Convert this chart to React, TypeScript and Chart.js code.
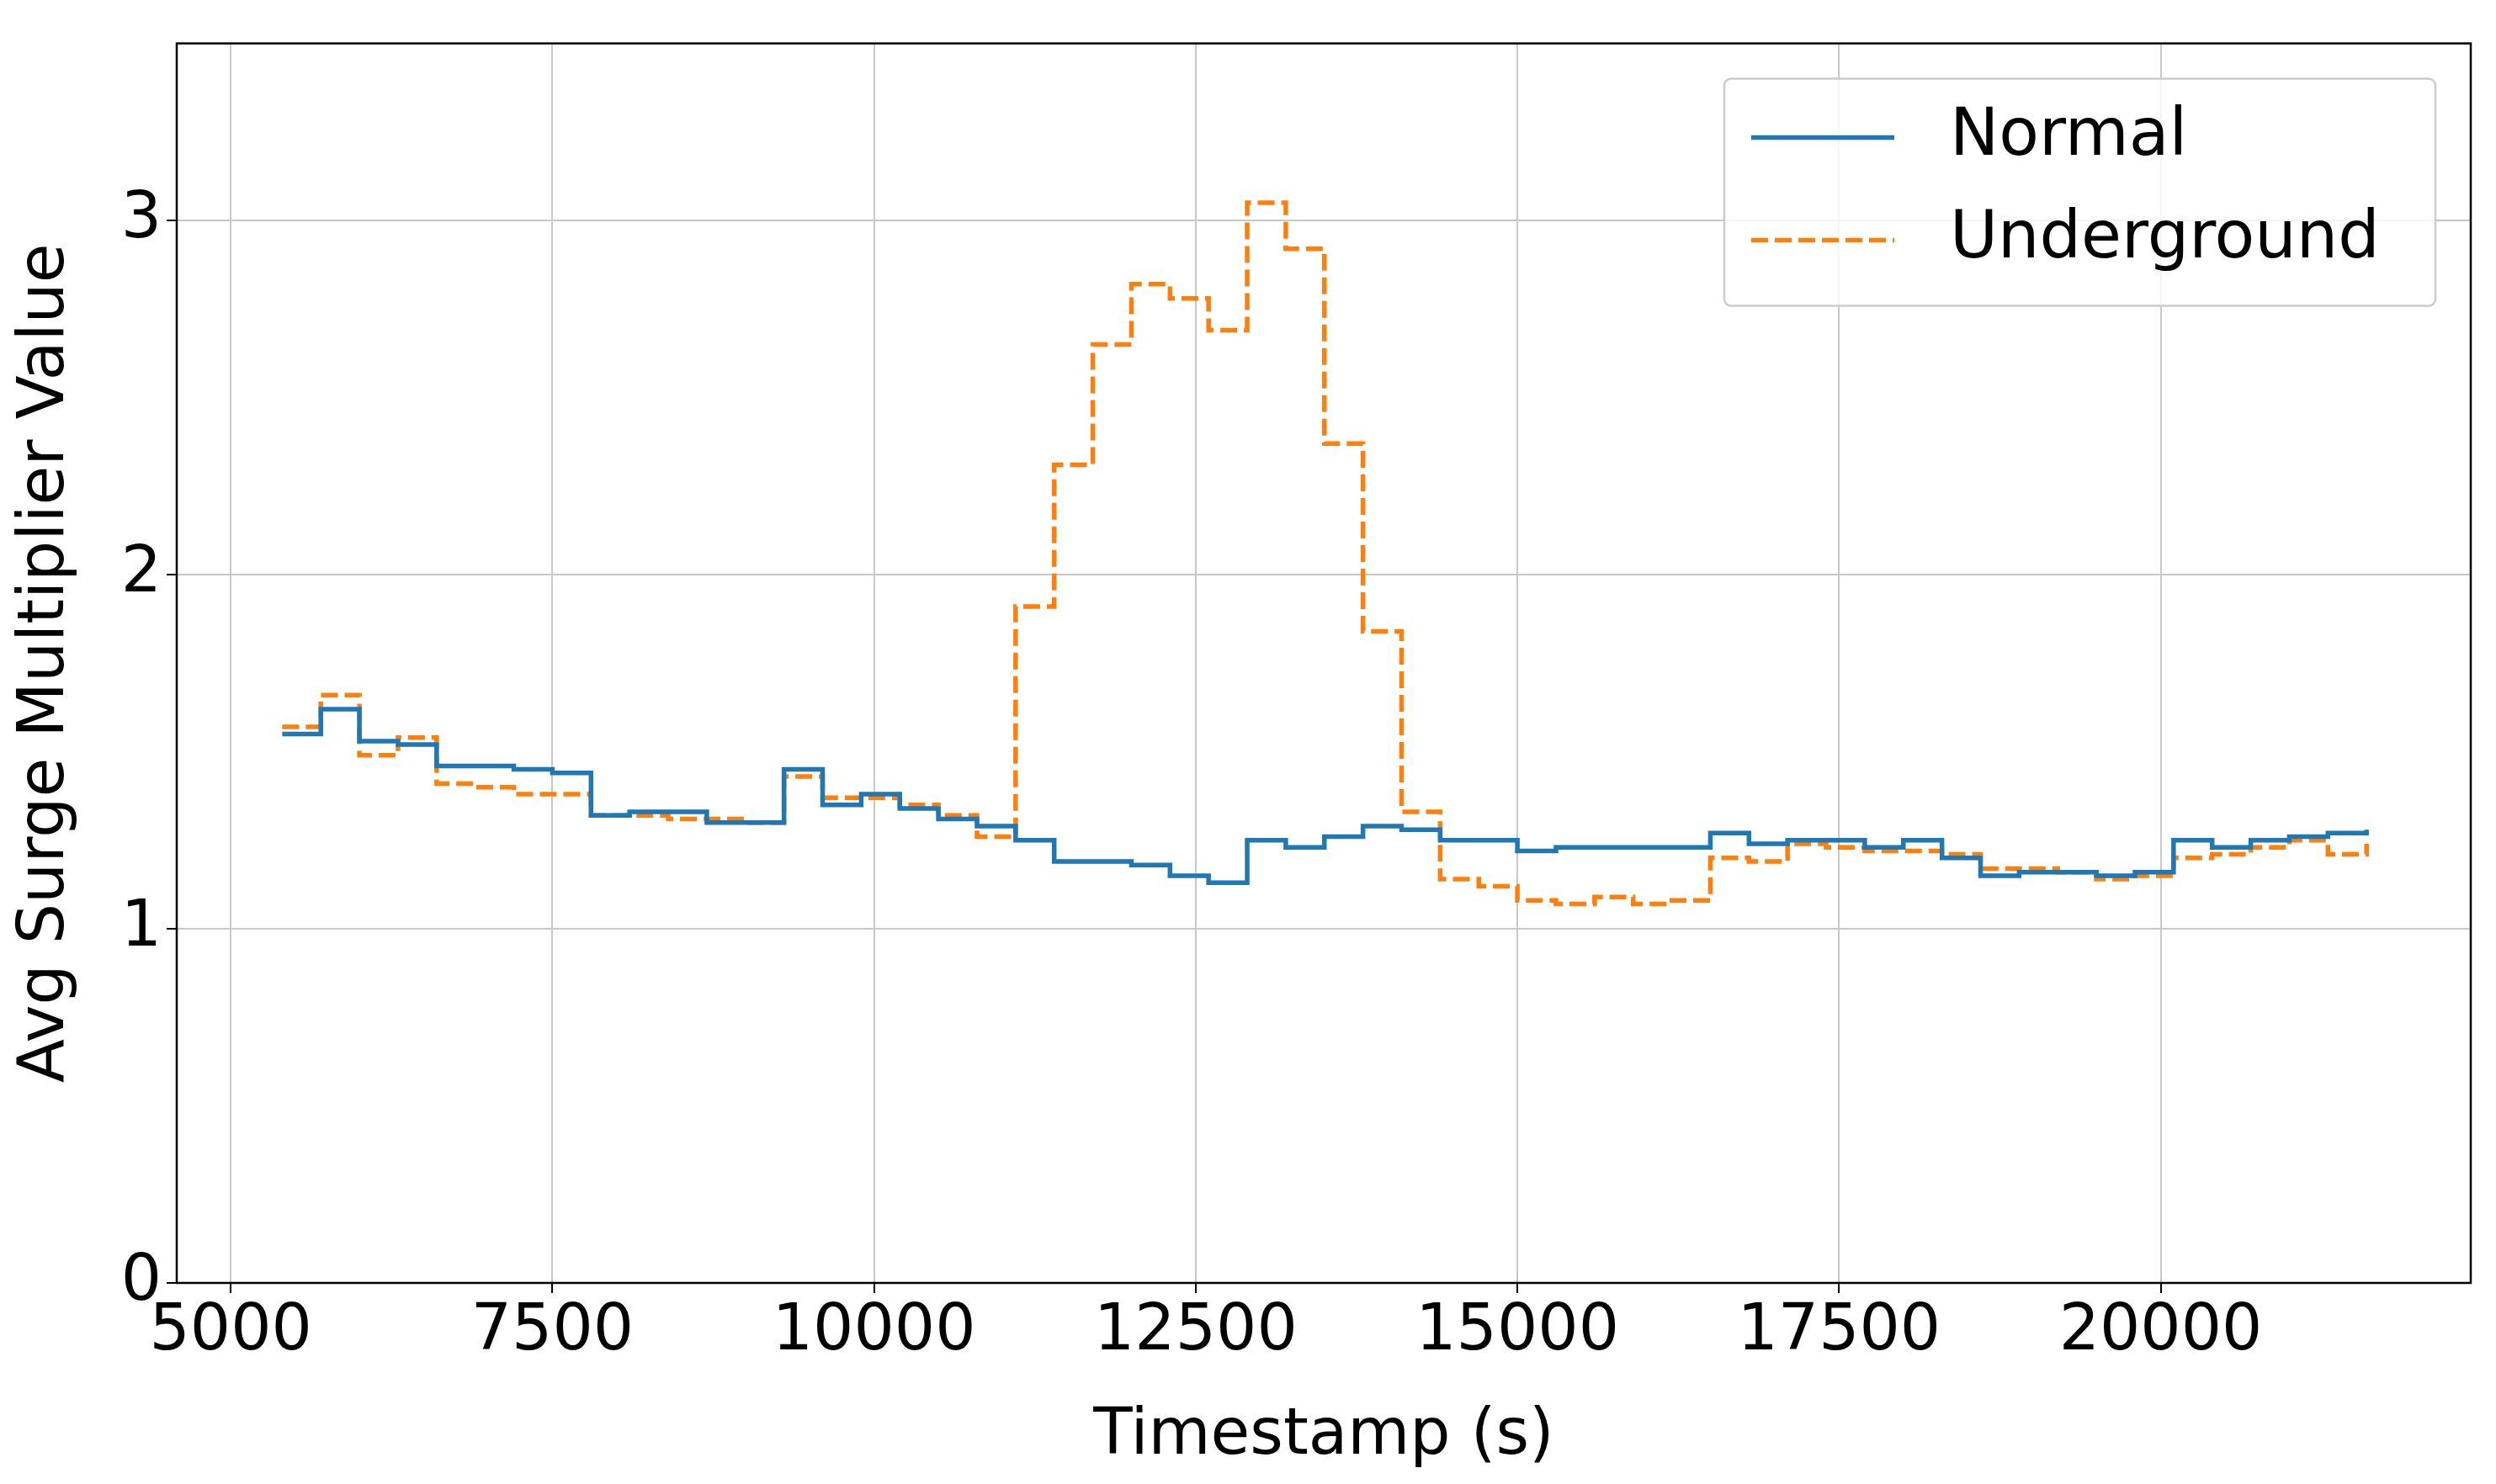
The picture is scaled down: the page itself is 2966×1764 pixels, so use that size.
import { useEffect, useRef } from "react"
import { Chart, registerables } from "chart.js"

Chart.register(...registerables)

const timestamps = [
  5400, 5700, 6000, 6300, 6600, 6900, 7200, 7500, 7800, 8100, 8400, 8700, 9000, 9300, 9600, 9900,
  10200, 10500, 10800, 11100, 11400, 11700, 12000, 12300, 12600, 12900, 13200, 13500, 13800, 14100,
  14400, 14700, 15000, 15300, 15600, 15900, 16200, 16500, 16800, 17100, 17400, 17700, 18000, 18300,
  18600, 18900, 19200, 19500, 19800, 20100, 20400, 20700, 21000, 21300, 21600,
]
const normal = [
  1.55, 1.62, 1.53, 1.52, 1.46, 1.46, 1.45, 1.44, 1.32, 1.33, 1.33, 1.3, 1.3, 1.45, 1.35, 1.38,
  1.34, 1.31, 1.29, 1.25, 1.19, 1.19, 1.18, 1.15, 1.13, 1.25, 1.23, 1.26, 1.29, 1.28,
  1.25, 1.25, 1.22, 1.23, 1.23, 1.23, 1.23, 1.27, 1.24, 1.25, 1.25, 1.23, 1.25, 1.2,
  1.15, 1.16, 1.16, 1.15, 1.16, 1.25, 1.23, 1.25, 1.26, 1.27, 1.28,
]
const underground = [
  1.57, 1.66, 1.49, 1.54, 1.41, 1.4, 1.38, 1.38, 1.32, 1.32, 1.31, 1.31, 1.3, 1.43, 1.37, 1.37,
  1.35, 1.32, 1.26, 1.91, 2.31, 2.65, 2.82, 2.78, 2.69, 3.05, 2.92, 2.37, 1.84, 1.33,
  1.14, 1.12, 1.08, 1.07, 1.09, 1.07, 1.08, 1.2, 1.19, 1.24, 1.23, 1.22, 1.22, 1.21,
  1.17, 1.17, 1.16, 1.14, 1.15, 1.2, 1.21, 1.23, 1.25, 1.21, 1.24,
]
const xTicks = [5000, 7500, 10000, 12500, 15000, 17500, 20000]
const yTicks = [0, 1, 2, 3]

const FONT = "'DejaVu Sans', sans-serif"
const BLUE = "#1f77b4"
const ORANGE = "#ff7f0e"
const DASH = [20, 8]

const frameAndLegend = {
  id: "frameAndLegend",
  afterDraw(chart: any) {
    const { ctx, chartArea: a } = chart
    ctx.save()
    ctx.strokeStyle = "#000"
    ctx.lineWidth = 2.5
    ctx.strokeRect(a.left, a.top, a.right - a.left, a.bottom - a.top)
    // legend
    const w = 845, h = 270
    const x = a.right - 42 - w, y = a.top + 42
    ctx.fillStyle = "rgba(255,255,255,0.8)"
    ctx.strokeStyle = "#cccccc"
    ctx.lineWidth = 2.5
    ctx.beginPath()
    ctx.roundRect(x, y, w, h, 8)
    ctx.fill()
    ctx.stroke()
    ctx.font = `78px ${FONT}`
    ctx.textBaseline = "middle"
    ctx.fillStyle = "#000"
    const items = [
      { label: "Normal", color: BLUE, dash: [] as number[] },
      { label: "Underground", color: ORANGE, dash: DASH },
    ]
    items.forEach((it, i) => {
      const cy = y + 70 + i * 122
      ctx.strokeStyle = it.color
      ctx.lineWidth = 5.5
      ctx.setLineDash(it.dash)
      ctx.beginPath()
      ctx.moveTo(x + 32, cy)
      ctx.lineTo(x + 202, cy)
      ctx.stroke()
      ctx.setLineDash([])
      ctx.fillText(it.label, x + 268, cy)
    })
    ctx.restore()
  },
}

export default function App() {
  const canvasRef = useRef<HTMLCanvasElement>(null)
  const chartRef = useRef<Chart | null>(null)

  useEffect(() => {
    if (!canvasRef.current) return
    if (chartRef.current) chartRef.current.destroy()

    chartRef.current = new Chart(canvasRef.current, {
      type: "line",
      data: {
        datasets: [
          {
            label: "Normal",
            data: timestamps.map((t, i) => ({ x: t, y: normal[i] })),
            borderColor: BLUE,
            borderWidth: 5.5,
            pointRadius: 0,
            stepped: true,
          },
          {
            label: "Underground",
            data: timestamps.map((t, i) => ({ x: t, y: underground[i] })),
            borderColor: ORANGE,
            borderWidth: 5.5,
            borderDash: DASH,
            pointRadius: 0,
            stepped: true,
          },
        ],
      },
      options: {
        animation: false,
        responsive: false,
        devicePixelRatio: 1,
        layout: { padding: { top: 10, right: 30, left: 10, bottom: 10 } },
        plugins: { legend: { display: false }, tooltip: { enabled: false } },
        scales: {
          x: {
            type: "linear",
            min: 4580,
            max: 22410,
            afterBuildTicks: (s: any) => {
              s.ticks = xTicks.map((v) => ({ value: v }))
            },
            afterFit: (s: any) => {
              s.height = 229
            },
            ticks: {
              font: { size: 76, family: FONT },
              color: "#000",
              padding: 2,
              maxRotation: 0,
              callback: (v: any) => String(v),
            },
            grid: { color: "#c8c8c8", lineWidth: 2, tickColor: "#000", tickLength: 12 },
            border: { display: false },
            title: { display: true, text: "Timestamp (s)", font: { size: 76, family: FONT }, color: "#000", padding: { top: 0, bottom: 0 } },
          },
          y: {
            min: 0,
            max: 3.5,
            afterBuildTicks: (s: any) => {
              s.ticks = yTicks.map((v) => ({ value: v }))
            },
            afterFit: (s: any) => {
              s.width = 200
            },
            ticks: { font: { size: 76, family: FONT }, color: "#000", padding: 6 },
            grid: { color: "#c8c8c8", lineWidth: 2, tickColor: "#000", tickLength: 12 },
            border: { display: false },
            title: { display: true, text: "Avg Surge Multiplier Value", font: { size: 76, family: FONT }, color: "#000", padding: 0 },
          },
        },
      },
      plugins: [frameAndLegend],
    })

    return () => {
      if (chartRef.current) {
        chartRef.current.destroy()
        chartRef.current = null
      }
    }
  }, [])

  return (
    <div style={{ position: "absolute", left: 0, top: 0, width: 2966, height: 1764, background: "#fff" }}>
      <canvas ref={canvasRef} width={2966} height={1764} />
    </div>
  )
}
